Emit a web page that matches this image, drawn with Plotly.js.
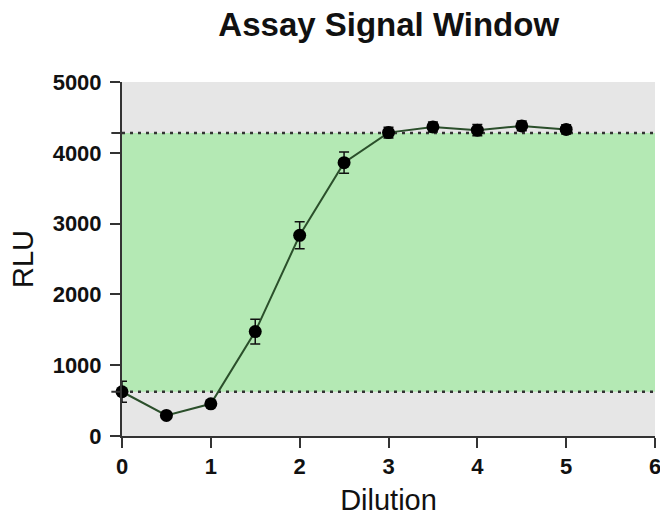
<!DOCTYPE html>
<html>
<head>
<meta charset="utf-8">
<script src="https://cdn.plot.ly/plotly-3.0.1.min.js"></script>
<style>html,body{margin:0;padding:0;background:#fff;}#chart{width:660px;height:516px;}</style>
</head>
<body>
<div id="chart"></div>
<script>
const dilution = [0, 0.5, 1, 1.5, 2, 2.5, 3, 3.5, 4, 4.5, 5];
const rlu = [625, 290, 455, 1475, 2835, 3860, 4285, 4365, 4320, 4380, 4330];
const rluErr = [150, 30, 30, 175, 190, 150, 75, 70, 80, 70, 65];
const windowBounds = [625, 4280];
const xRange = [0, 6];
const yRange = [0, 5000];
const xTicks = [0, 1, 2, 3, 4, 5, 6];
const yTicks = [0, 1000, 2000, 3000, 4000, 5000];

const font = {family: "Liberation Sans, Arial, sans-serif", color: "#111"};

const trace = {
  x: dilution, y: rlu, type: "scatter", mode: "lines+markers",
  line: {color: "#2b4f2b", width: 2},
  marker: {color: "#000", size: 13},
  error_y: {type: "data", array: rluErr, visible: true, color: "#111", thickness: 1.5, width: 5},
  cliponaxis: false, hoverinfo: "skip"
};

const shapes = [
  {type: "rect", xref: "x", yref: "y", x0: xRange[0], x1: xRange[1], y0: yRange[0], y1: yRange[1],
   fillcolor: "#e6e6e6", line: {width: 0}, layer: "below"},
  {type: "rect", xref: "x", yref: "y", x0: xRange[0], x1: xRange[1], y0: windowBounds[0], y1: windowBounds[1],
   fillcolor: "#b4e9b4", line: {width: 0}, layer: "below"}
];
windowBounds.forEach(v => {
  shapes.push({type: "line", xref: "x", yref: "y", x0: xRange[0], x1: xRange[1], y0: v, y1: v,
    line: {color: "#333", width: 2.5, dash: "3px,5px"}, layer: "below"});
  shapes.push({type: "line", xref: "paper", yref: "y", x0: -0.02, x1: 0, y0: v, y1: v,
    line: {color: "#333", width: 2}});
});

const layout = {
  width: 660, height: 516,
  margin: {l: 122, r: 5, t: 82, b: 80},
  paper_bgcolor: "#fff", plot_bgcolor: "#fff",
  showlegend: false,
  title: {text: "Assay Signal Window", x: 0.589, xanchor: "center", y: 0.952, yanchor: "middle",
    font: Object.assign({}, font, {size: 33, weight: "bold"})},
  xaxis: {
    range: [xRange[0], xRange[1] ], tickvals: xTicks, ticktext: xTicks.map(String),
    showgrid: false, zeroline: false, showline: true, linecolor: "#333", linewidth: 2,
    ticks: "outside", ticklen: 10, tickwidth: 2, tickcolor: "#333", ticklabeloverflow: "allow",
    tickfont: Object.assign({}, font, {size: 22, weight: "bold"}),
    title: {text: "Dilution", font: Object.assign({}, font, {size: 29}), standoff: 14}
  },
  yaxis: {
    range: [yRange[0], yRange[1]], tickvals: yTicks, ticktext: yTicks.map(String),
    showgrid: false, zeroline: false, showline: true, linecolor: "#333", linewidth: 2,
    ticks: "outside", ticklen: 10, tickwidth: 2, tickcolor: "#333", ticklabelstandoff: 4,
    tickfont: Object.assign({}, font, {size: 22, weight: "bold"}),
    title: {text: "RLU", font: Object.assign({}, font, {size: 29}), standoff: 10}
  },
  shapes: shapes
};

Plotly.newPlot("chart", [trace], layout, {displayModeBar: false, staticPlot: true});
</script>
</body>
</html>
